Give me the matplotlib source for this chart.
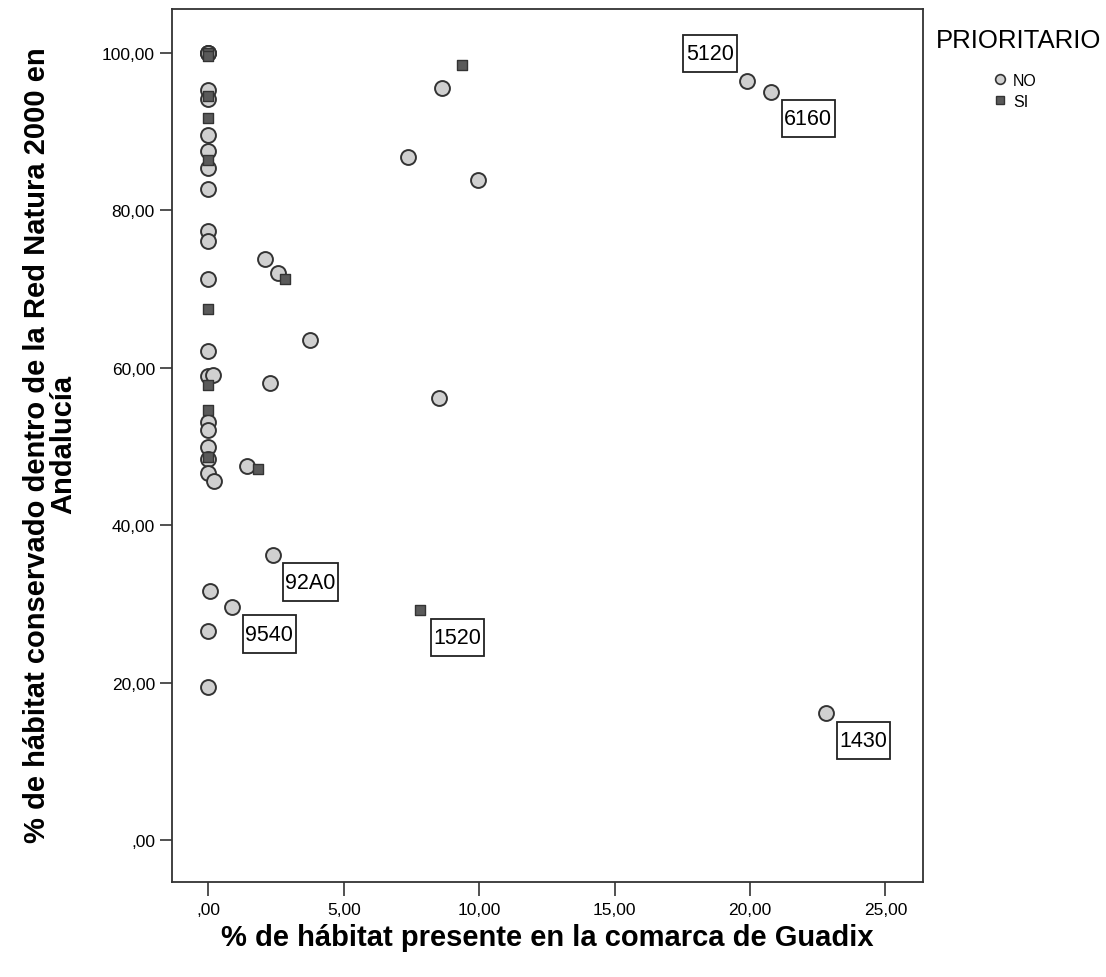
import matplotlib
matplotlib.use('Agg')
import matplotlib.pyplot as plt
from matplotlib.lines import Line2D
from matplotlib.path import Path

plt.rcParams['font.family'] = ['Liberation Sans', 'DejaVu Sans']

# Habitats not prioritary (circles)
no_x = [0, 0, 0, 0, 0, 0, 0, 0, 0, 0, 0, 0, 0, 0, 0.16, 0, 0, 0, 0, 0, 0.22, 0.04, 0, 0,
        2.07, 2.56, 3.74, 2.26, 8.52, 1.42, 2.40, 0.88, 8.62, 7.36, 9.95, 19.89, 20.78, 22.81]
no_y = [100, 100, 100, 95.3, 94.2, 89.6, 87.5, 85.4, 82.7, 77.4, 76.1, 71.3, 62.2, 59.0, 59.1,
        53.1, 52.1, 49.9, 48.4, 46.7, 45.6, 31.7, 26.6, 19.5,
        73.8, 72.1, 63.6, 58.1, 56.2, 47.5, 36.2, 29.6, 95.5, 86.8, 83.9, 96.4, 95.1, 16.1]

# Prioritary habitats (squares)
si_x = [0, 0, 0, 0, 0, 0, 0, 0, 0, 2.81, 1.82, 9.36, 7.83]
si_y = [100, 99.6, 94.5, 91.7, 86.4, 67.5, 57.8, 54.6, 48.7, 71.3, 47.1, 98.5, 29.2]

# Labelled habitat codes
codes = ['5120', '6160', '92A0', '9540', '1520', '1430']
code_x = [19.89, 20.78, 2.40, 0.88, 7.83, 22.81]
code_y = [96.4, 95.1, 36.2, 29.6, 29.2, 16.1]

xticks = [0, 5, 10, 15, 20, 25]
xtick_labels = [',00', '5,00', '10,00', '15,00', '20,00', '25,00']
yticks = [0, 20, 40, 60, 80, 100]
ytick_labels = [',00', '20,00', '40,00', '60,00', '80,00', '100,00']


def tall_box(x0, y0, width, height, mutation_size):
    # rectangle with more padding above/below than left/right
    px = 0.12 * mutation_size
    py = 0.38 * mutation_size
    x0, y0 = x0 - px, y0 - py
    x1, y1 = x0 + width + 2 * px, y0 + height + 2 * py
    return Path([(x0, y0), (x1, y0), (x1, y1), (x0, y1), (x0, y0)], closed=True)


fig = plt.figure(figsize=(11.06, 9.78), dpi=100)
ax = fig.add_axes([0.1552, 0.0968, 0.6791, 0.8930])

circle_fc = '#d0d0d0'
square_fc = '#5a5a5a'
edge = '#333333'

ax.scatter(no_x, no_y, s=115, marker='o', facecolor=circle_fc, edgecolor=edge, linewidth=1.4, zorder=3)
ax.scatter(si_x, si_y, s=60, marker='s', facecolor=square_fc, edgecolor=edge, linewidth=1.0, zorder=4)

# boxed labels, upper-left for 5120, lower-right for the rest
for code, x, y in zip(codes, code_x, code_y):
    off = (-37, 28) if code == '5120' else (37, -27)
    ax.annotate(code, xy=(x, y), xytext=off, textcoords='offset pixels',
                ha='center', va='center', fontsize=15.5,
                bbox=dict(boxstyle=tall_box, fc='white', ec='#222222', lw=1.3),
                zorder=5)

ax.set_xlim(-1.36, 26.38)
ax.set_ylim(-5.37, 105.6)
ax.set_xticks(xticks)
ax.set_xticklabels(xtick_labels)
ax.set_yticks(yticks)
ax.set_yticklabels(ytick_labels)
ax.tick_params(axis='x', direction='out', length=10, width=1.2, pad=4, labelsize=12.5, color='#333333')
ax.tick_params(axis='y', direction='out', length=9, width=1.2, pad=3, labelsize=12.5, color='#333333')
for sp in ax.spines.values():
    sp.set_color('#333333')
    sp.set_linewidth(1.3)

ax.set_xlabel('% de hábitat presente en la comarca de Guadix', fontsize=21, fontweight='bold')
ax.xaxis.set_label_coords(0.5, -0.0626)
ax.xaxis.label.set_va('center')
ax.set_ylabel('% de hábitat conservado dentro de la Red Natura 2000 en\nAndalucía',
              fontsize=21, fontweight='bold', linespacing=0.95)
ax.yaxis.set_label_coords(-0.162, 0.502)
ax.yaxis.label.set_va('center')

# legend: title placed as its own text, entries below it
fig.text(1019 / 1106, 1 - 41 / 978, 'PRIORITARIO', fontsize=18.5, ha='center', va='center')
handles = [
    Line2D([], [], linestyle='none', marker='o', markersize=7, markerfacecolor=circle_fc,
           markeredgecolor=edge, markeredgewidth=1.2, label='NO'),
    Line2D([], [], linestyle='none', marker='s', markersize=5.5, markerfacecolor=square_fc,
           markeredgecolor=edge, markeredgewidth=1.0, label='SI'),
]
fig.legend(handles=handles, loc='upper left',
           bbox_to_anchor=(994 / 1106, 1 - 74 / 978), frameon=False,
           fontsize=11.5, handlelength=0.8, handletextpad=0.4,
           labelspacing=0.35, borderpad=0, borderaxespad=0)

fig.savefig('out.png', dpi=100)
